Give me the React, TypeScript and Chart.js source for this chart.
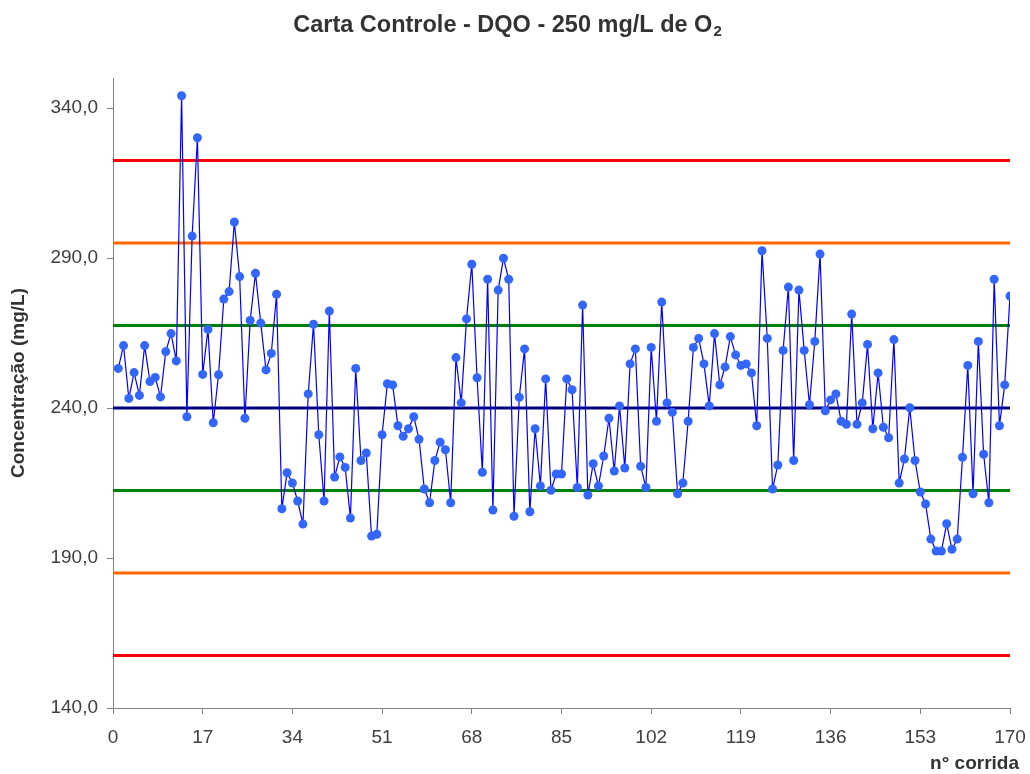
import React, { useEffect, useRef } from "react";
import { Chart, registerables } from "chart.js";

Chart.register(...registerables);

// Run numbers (n° corrida) 1..170
const runs: number[] = Array.from({ length: 170 }, (_, i) => i + 1);

// DQO measured concentrations (mg/L)
const concentracao: number[] = [
  253.2, 260.8, 243.2, 251.8, 244.2, 260.8, 248.8, 250.2, 243.7, 258.8,
  264.8, 255.7, 344.1, 237.1, 297.3, 330.1, 251.2, 266.2, 235.1, 251.1,
  276.3, 278.8, 302.0, 283.8, 236.6, 269.2, 284.9, 268.3, 252.7, 258.2,
  277.9, 206.4, 218.4, 215.0, 209.0, 201.3, 244.7, 267.9, 231.1, 209.0,
  272.3, 217.0, 223.7, 220.2, 203.3, 253.2, 222.5, 225.0, 197.3, 197.9,
  231.1, 248.1, 247.7, 234.1, 230.6, 233.1, 237.1, 229.6, 213.0, 208.4,
  222.5, 228.6, 226.1, 208.4, 256.8, 241.7, 269.7, 287.9, 250.1, 218.6,
  282.9, 206.0, 279.3, 289.9, 282.9, 203.9, 243.6, 259.7, 205.4, 233.1,
  214.0, 249.7, 212.6, 218.0, 218.0, 249.7, 246.1, 213.5, 274.3, 211.0,
  221.4, 214.0, 224.0, 236.6, 219.0, 240.7, 220.0, 254.7, 259.7, 220.6,
  213.5, 260.2, 235.6, 275.3, 241.7, 238.6, 211.4, 215.0, 235.6, 260.2,
  263.2, 254.7, 240.7, 264.8, 247.7, 253.7, 263.8, 257.7, 254.2, 254.7,
  251.7, 234.1, 292.4, 263.2, 213.0, 221.0, 259.2, 280.3, 222.5, 279.3,
  259.2, 241.1, 262.2, 291.3, 239.1, 242.7, 244.7, 235.6, 234.6, 271.3,
  234.6, 241.7, 261.2, 233.1, 251.7, 233.6, 230.1, 262.8, 215.0, 223.0,
  240.1, 222.5, 212.0, 208.0, 196.3, 192.3, 192.3, 201.4, 192.9, 196.3,
  223.6, 254.2, 211.4, 262.2, 224.6, 208.4, 282.9, 234.1, 247.7, 277.3,
];

// Control lines
const media = 240.0;
const limitesControle: number[] = [322.5, 157.5]; // red  (±3s)
const limitesAlerta: number[] = [295.0, 185.0]; // orange (±2s)
const limitesUmSigma: number[] = [267.5, 212.5]; // green (±1s)

const xRange: number[] = [0, 170];
const yTickValues: number[] = [140, 190, 240, 290, 340];
const yRange: number[] = [140, 350];

const FONT = '"Liberation Sans", Arial, Helvetica, sans-serif';

const hLine = (v: number, color: string) => ({
  type: "line" as const,
  data: xRange.map((x) => ({ x, y: v })),
  borderColor: color,
  borderWidth: 3,
  pointRadius: 0,
  pointHoverRadius: 0,
  fill: false,
  order: 2,
});

const textPlugin = {
  id: "texts",
  afterDraw(chart: any) {
    const ctx = chart.ctx as CanvasRenderingContext2D;
    ctx.save();
    // Title with subscript
    const main = "Carta Controle - DQO - 250 mg/L de O";
    const sub = "2";
    ctx.fillStyle = "#333333";
    ctx.textBaseline = "alphabetic";
    ctx.textAlign = "left";
    ctx.font = `bold 23.5px ${FONT}`;
    const w1 = ctx.measureText(main).width;
    ctx.font = `bold 15px ${FONT}`;
    const w2 = ctx.measureText(sub).width;
    const startX = 507 - (w1 + w2) / 2;
    ctx.font = `bold 23.5px ${FONT}`;
    ctx.fillText(main, startX, 32);
    ctx.font = `bold 15px ${FONT}`;
    ctx.fillText(sub, startX + w1 + 1, 35.5);

    // Y axis title
    ctx.save();
    ctx.translate(19, 383);
    ctx.rotate(-Math.PI / 2);
    ctx.textAlign = "center";
    ctx.textBaseline = "middle";
    ctx.font = `bold 19px ${FONT}`;
    ctx.fillText("Concentração (mg/L)", 0, 0);
    ctx.restore();

    // X axis title
    ctx.textAlign = "right";
    ctx.textBaseline = "alphabetic";
    ctx.font = `bold 19px ${FONT}`;
    ctx.fillText("n° corrida", 1019, 769);
    ctx.restore();
  },
};

export default function App() {
  const canvasRef = useRef<HTMLCanvasElement | null>(null);

  useEffect(() => {
    if (!canvasRef.current) return;
    const chart = new Chart(canvasRef.current, {
      type: "line",
      data: {
        datasets: [
          {
            type: "line",
            data: runs.map((r, i) => ({ x: r, y: concentracao[i] })),
            borderColor: "#0000FF",
            borderWidth: 1.2,
            pointRadius: 4.5,
            pointBackgroundColor: "#3366FF",
            pointBorderColor: "#3366FF",
            pointBorderWidth: 0,
            fill: false,
            tension: 0,
            order: 0,
          },
          hLine(media, "#000080"),
          hLine(limitesUmSigma[0], "#008000"),
          hLine(limitesUmSigma[1], "#008000"),
          hLine(limitesAlerta[0], "#FF6600"),
          hLine(limitesAlerta[1], "#FF6600"),
          hLine(limitesControle[0], "#FF0000"),
          hLine(limitesControle[1], "#FF0000"),
        ] as any,
      },
      options: {
        animation: false,
        responsive: false,
        events: [],
        layout: { padding: { top: 78, right: 20, left: 0, bottom: 0 } },
        plugins: {
          legend: { display: false },
          tooltip: { enabled: false },
          title: { display: false },
        },
        scales: {
          x: {
            type: "linear",
            min: xRange[0],
            max: xRange[1],
            ticks: {
              stepSize: 17,
              color: "#404040",
              font: { family: FONT, size: 19 },
              padding: 12,
              maxRotation: 0,
              autoSkip: false,
              callback: (v: any) => String(v),
            },
            grid: {
              display: true,
              drawOnChartArea: false,
              drawTicks: true,
              tickLength: 6,
              color: "#808080",
            },
            border: { display: true, color: "#808080", width: 1 },
            afterFit: (scale: any) => {
              scale.height = 66;
              scale.paddingRight = 0;
              scale.paddingLeft = 0;
            },
          },
          y: {
            type: "linear",
            min: yRange[0],
            max: yRange[1],
            afterBuildTicks: (scale: any) => {
              scale.ticks = yTickValues.map((v) => ({ value: v }));
            },
            ticks: {
              color: "#404040",
              font: { family: FONT, size: 19 },
              padding: 9,
              callback: (v: any) => Number(v).toFixed(1).replace(".", ","),
            },
            grid: {
              display: true,
              drawOnChartArea: false,
              drawTicks: true,
              tickLength: 6,
              color: "#808080",
            },
            border: { display: true, color: "#808080", width: 1 },
            afterFit: (scale: any) => {
              scale.width = 113;
              scale.paddingTop = 0;
              scale.paddingBottom = 0;
            },
          },
        },
      },
      plugins: [textPlugin],
    });
    return () => chart.destroy();
  }, []);

  return (
    <div style={{ position: "absolute", left: 0, top: 0, width: 1030, height: 774, background: "#fff" }}>
      <canvas ref={canvasRef} width={1030} height={774} style={{ display: "block" }} />
    </div>
  );
}
